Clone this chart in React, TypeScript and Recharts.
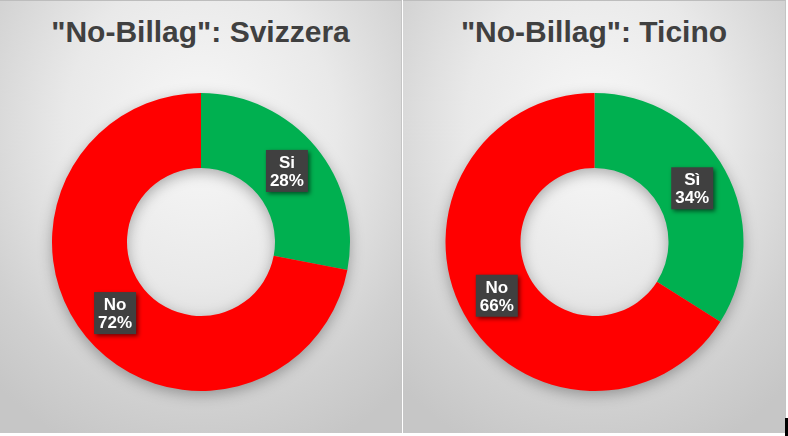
import React from 'react';
import { PieChart, Pie, Cell } from 'recharts';

const titles = ['"No-Billag": Svizzera', '"No-Billag": Ticino'];
const svizzeraLabels = ['Si', 'No'];
const svizzeraValues = [28, 72];
const ticinoLabels = ['Sì', 'No'];
const ticinoValues = [34, 66];
const sliceColors = ['#00b050', '#ff0000'];

const RAD = Math.PI / 180;

const renderLabel = (props: any) => {
    const { cx, cy, midAngle, innerRadius, outerRadius, name, value } = props;
    const r = (innerRadius + outerRadius) / 2;
    const x = cx + r * Math.cos(-midAngle * RAD);
    const y = cy + r * Math.sin(-midAngle * RAD);
    return (
        <g>
            <rect
                x={x - 21}
                y={y - 21}
                width={42}
                height={42}
                fill="#404040"
                style={{ filter: 'drop-shadow(2px 2px 2px rgba(0,0,0,0.55))' }}
            />
            <text x={x} y={y - 3} textAnchor="middle" fill="#ffffff" fontSize={17} fontWeight="bold"
                fontFamily="'Liberation Sans', Arial, sans-serif">
                {name}
            </text>
            <text x={x} y={y + 15} textAnchor="middle" fill="#ffffff" fontSize={17} fontWeight="bold"
                fontFamily="'Liberation Sans', Arial, sans-serif">
                {`${value}%`}
            </text>
        </g>
    );
};

interface PanelProps {
    title: string;
    labels: string[];
    values: number[];
    left: number;
    width: number;
}

const DonutPanel: React.FC<PanelProps> = ({ title, labels, values, left, width }) => {
    const data = labels.map((name, i) => ({ name, value: values[i] }));
    return (
        <div
            style={{
                position: 'absolute',
                left,
                top: 0,
                width,
                height: 433,
                boxSizing: 'border-box',
                borderTop: '1px solid #bdbdbd',
                borderRight: '1px solid #c4c4c4',
                background: 'radial-gradient(ellipse 75% 80% at 50% 30%, #f8f8f8 0%, #e9e9e9 45%, #d0d0d0 80%, #c6c6c6 100%)',
            }}
        >
            <div
                style={{
                    position: 'absolute',
                    left: 0,
                    top: 13,
                    width: '100%',
                    textAlign: 'center',
                    fontFamily: "'Liberation Sans', Arial, sans-serif",
                    fontWeight: 'bold',
                    fontSize: 30,
                    lineHeight: '36px',
                    color: '#404040',
                }}
            >
                {title}
            </div>
            <div style={{ position: 'absolute', left: 0, top: -1, filter: 'drop-shadow(0px 4px 7px rgba(0,0,0,0.3))' }}>
                <PieChart width={width} height={433} margin={{ top: 0, right: 0, bottom: 0, left: 0 }}>
                    <Pie
                        data={data}
                        dataKey="value"
                        nameKey="name"
                        cx={width / 2}
                        cy={242}
                        innerRadius={74}
                        outerRadius={149}
                        startAngle={90}
                        endAngle={-270}
                        stroke="none"
                        labelLine={false}
                        label={renderLabel}
                        isAnimationActive={false}
                    >
                        {data.map((_, index) => (
                            <Cell key={`cell-${index}`} fill={sliceColors[index]} />
                        ))}
                    </Pie>
                </PieChart>
            </div>
        </div>
    );
};

const App: React.FC = () => {
    return (
        <div style={{ position: 'absolute', left: 0, top: 0, width: 788, height: 436, background: '#ffffff', overflow: 'hidden' }}>
            <DonutPanel title={titles[0]} labels={svizzeraLabels} values={svizzeraValues} left={0} width={402} />
            <DonutPanel title={titles[1]} labels={ticinoLabels} values={ticinoValues} left={403} width={383} />
            <div style={{ position: 'absolute', left: 785, top: 418, width: 3, height: 18, background: '#000000' }} />
        </div>
    );
};

export default App;
